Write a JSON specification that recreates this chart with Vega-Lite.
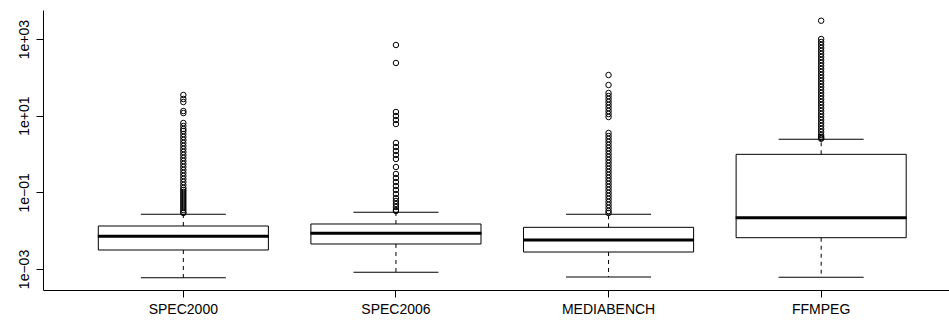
{
  "$schema": "https://vega.github.io/schema/vega-lite/v6.json",
  "width": 906,
  "height": 280,
  "autosize": "none",
  "padding": {"left": 43, "top": 10, "right": 0, "bottom": 31},
  "background": "white",
  "config": {
    "view": {"stroke": null},
    "font": "Liberation Sans",
    "axis": {"grid": false, "domainColor": "black", "tickColor": "black", "labelColor": "black", "tickSize": 7, "labelFont": "Liberation Sans", "labelFontSize": 14, "domainWidth": 1, "tickWidth": 1},
    "axisX": {"labelAngle": 0, "labelPadding": 5},
    "axisY": {"labelAngle": -90, "labelAlign": "center", "labelBaseline": "bottom", "labelPadding": 5}
  },
  "datasets": {
    "boxes": [
      {"group": "SPEC2000", "lower": 0.000594, "q1": 0.00313, "median": 0.00711, "q3": 0.01324, "upper": 0.0267},
      {"group": "SPEC2006", "lower": 0.000819, "q1": 0.00449, "median": 0.00851, "q3": 0.01493, "upper": 0.0301},
      {"group": "MEDIABENCH", "lower": 0.000618, "q1": 0.00277, "median": 0.0057, "q3": 0.01222, "upper": 0.0267},
      {"group": "FFMPEG", "lower": 0.000607, "q1": 0.00655, "median": 0.0218, "q3": 0.98, "upper": 2.42}
    ],
    "outliers": [
      {"group": "SPEC2000", "value": 34.6}, {"group": "SPEC2000", "value": 27.2}, {"group": "SPEC2000", "value": 22.7},
      {"group": "SPEC2000", "value": 13.2}, {"group": "SPEC2000", "value": 11.7}, {"group": "SPEC2000", "value": 6.44},
      {"group": "SPEC2000", "value": 5.38}, {"group": "SPEC2000", "value": 4.49}, {"group": "SPEC2000", "value": 3.98},
      {"group": "SPEC2000", "value": 3.32}, {"group": "SPEC2000", "value": 2.78}, {"group": "SPEC2000", "value": 2.32},
      {"group": "SPEC2000", "value": 1.94}, {"group": "SPEC2000", "value": 1.62}, {"group": "SPEC2000", "value": 1.35},
      {"group": "SPEC2000", "value": 1.13}, {"group": "SPEC2000", "value": 0.942}, {"group": "SPEC2000", "value": 0.786},
      {"group": "SPEC2000", "value": 0.657}, {"group": "SPEC2000", "value": 0.548}, {"group": "SPEC2000", "value": 0.458},
      {"group": "SPEC2000", "value": 0.382}, {"group": "SPEC2000", "value": 0.319}, {"group": "SPEC2000", "value": 0.267},
      {"group": "SPEC2000", "value": 0.223}, {"group": "SPEC2000", "value": 0.186}, {"group": "SPEC2000", "value": 0.155},
      {"group": "SPEC2000", "value": 0.13}, {"group": "SPEC2000", "value": 0.115}, {"group": "SPEC2000", "value": 0.102},
      {"group": "SPEC2000", "value": 0.0905}, {"group": "SPEC2000", "value": 0.0802}, {"group": "SPEC2000", "value": 0.0711},
      {"group": "SPEC2000", "value": 0.0631}, {"group": "SPEC2000", "value": 0.056}, {"group": "SPEC2000", "value": 0.0496},
      {"group": "SPEC2000", "value": 0.044}, {"group": "SPEC2000", "value": 0.039}, {"group": "SPEC2000", "value": 0.0346},
      {"group": "SPEC2000", "value": 0.0307}, {"group": "SPEC2000", "value": 0.0289},
      {"group": "SPEC2006", "value": 698}, {"group": "SPEC2006", "value": 237}, {"group": "SPEC2006", "value": 12.5},
      {"group": "SPEC2006", "value": 9.8}, {"group": "SPEC2006", "value": 7.71}, {"group": "SPEC2006", "value": 6.06},
      {"group": "SPEC2006", "value": 1.94}, {"group": "SPEC2006", "value": 1.52}, {"group": "SPEC2006", "value": 1.2},
      {"group": "SPEC2006", "value": 0.942}, {"group": "SPEC2006", "value": 0.741}, {"group": "SPEC2006", "value": 0.458},
      {"group": "SPEC2006", "value": 0.301}, {"group": "SPEC2006", "value": 0.2365}, {"group": "SPEC2006", "value": 0.186},
      {"group": "SPEC2006", "value": 0.146}, {"group": "SPEC2006", "value": 0.115}, {"group": "SPEC2006", "value": 0.0905},
      {"group": "SPEC2006", "value": 0.0711}, {"group": "SPEC2006", "value": 0.0594}, {"group": "SPEC2006", "value": 0.0496},
      {"group": "SPEC2006", "value": 0.0414}, {"group": "SPEC2006", "value": 0.0346}, {"group": "SPEC2006", "value": 0.0326},
      {"group": "MEDIABENCH", "value": 115}, {"group": "MEDIABENCH", "value": 63.1}, {"group": "MEDIABENCH", "value": 39.0},
      {"group": "MEDIABENCH", "value": 32.6}, {"group": "MEDIABENCH", "value": 27.2}, {"group": "MEDIABENCH", "value": 22.7},
      {"group": "MEDIABENCH", "value": 19.0}, {"group": "MEDIABENCH", "value": 15.85}, {"group": "MEDIABENCH", "value": 13.2},
      {"group": "MEDIABENCH", "value": 11.05}, {"group": "MEDIABENCH", "value": 9.23}, {"group": "MEDIABENCH", "value": 3.53},
      {"group": "MEDIABENCH", "value": 2.95}, {"group": "MEDIABENCH", "value": 2.46}, {"group": "MEDIABENCH", "value": 2.06},
      {"group": "MEDIABENCH", "value": 1.72}, {"group": "MEDIABENCH", "value": 1.43}, {"group": "MEDIABENCH", "value": 1.2},
      {"group": "MEDIABENCH", "value": 1.0}, {"group": "MEDIABENCH", "value": 0.835}, {"group": "MEDIABENCH", "value": 0.697},
      {"group": "MEDIABENCH", "value": 0.582}, {"group": "MEDIABENCH", "value": 0.486}, {"group": "MEDIABENCH", "value": 0.406},
      {"group": "MEDIABENCH", "value": 0.339}, {"group": "MEDIABENCH", "value": 0.283}, {"group": "MEDIABENCH", "value": 0.2365},
      {"group": "MEDIABENCH", "value": 0.1975}, {"group": "MEDIABENCH", "value": 0.165}, {"group": "MEDIABENCH", "value": 0.138},
      {"group": "MEDIABENCH", "value": 0.115}, {"group": "MEDIABENCH", "value": 0.096}, {"group": "MEDIABENCH", "value": 0.0802},
      {"group": "MEDIABENCH", "value": 0.067}, {"group": "MEDIABENCH", "value": 0.056}, {"group": "MEDIABENCH", "value": 0.0467},
      {"group": "MEDIABENCH", "value": 0.039}, {"group": "MEDIABENCH", "value": 0.0326}, {"group": "MEDIABENCH", "value": 0.0289},
      {"group": "FFMPEG", "value": 3000}, {"group": "FFMPEG", "value": 1000}, {"group": "FFMPEG", "value": 836},
      {"group": "FFMPEG", "value": 698}, {"group": "FFMPEG", "value": 583}, {"group": "FFMPEG", "value": 487},
      {"group": "FFMPEG", "value": 406}, {"group": "FFMPEG", "value": 339}, {"group": "FFMPEG", "value": 283},
      {"group": "FFMPEG", "value": 237}, {"group": "FFMPEG", "value": 198}, {"group": "FFMPEG", "value": 165},
      {"group": "FFMPEG", "value": 138}, {"group": "FFMPEG", "value": 115}, {"group": "FFMPEG", "value": 96.1},
      {"group": "FFMPEG", "value": 80.3}, {"group": "FFMPEG", "value": 67.0}, {"group": "FFMPEG", "value": 56.0},
      {"group": "FFMPEG", "value": 46.7}, {"group": "FFMPEG", "value": 39.0}, {"group": "FFMPEG", "value": 32.6},
      {"group": "FFMPEG", "value": 27.2}, {"group": "FFMPEG", "value": 22.7}, {"group": "FFMPEG", "value": 19.0},
      {"group": "FFMPEG", "value": 15.85}, {"group": "FFMPEG", "value": 13.2}, {"group": "FFMPEG", "value": 11.05},
      {"group": "FFMPEG", "value": 9.23}, {"group": "FFMPEG", "value": 7.71}, {"group": "FFMPEG", "value": 6.44},
      {"group": "FFMPEG", "value": 5.38}, {"group": "FFMPEG", "value": 4.49}, {"group": "FFMPEG", "value": 3.75},
      {"group": "FFMPEG", "value": 3.13}, {"group": "FFMPEG", "value": 2.81}, {"group": "FFMPEG", "value": 2.61},
      {"group": "FFMPEG", "value": 2.5}
    ]
  },
  "layer": [
    {
      "data": {"name": "boxes"},
      "mark": {"type": "rule", "color": "black", "strokeWidth": 1, "strokeDash": [4, 4]},
      "encoding": {
        "x": {
          "field": "group", "type": "nominal", "title": null,
          "sort": ["SPEC2000", "SPEC2006", "MEDIABENCH", "FFMPEG"],
          "scale": {"type": "band", "domain": ["SPEC2000", "SPEC2006", "MEDIABENCH", "FFMPEG"], "paddingInner": 0.2, "paddingOuter": 0.2307, "align": 0.5637}
        },
        "y": {
          "field": "q3", "type": "quantitative", "title": null,
          "scale": {"type": "log", "domain": [0.000283, 5715], "nice": false, "zero": false},
          "axis": {"values": [0.001, 0.1, 10, 1000], "labelExpr": "datum.value < 0.01 ? '1e−03' : datum.value < 1 ? '1e−01' : datum.value < 100 ? '1e+01' : '1e+03'"}
        },
        "y2": {"field": "upper"}
      }
    },
    {
      "data": {"name": "boxes"},
      "mark": {"type": "rule", "color": "black", "strokeWidth": 1, "strokeDash": [4, 4]},
      "encoding": {
        "x": {"field": "group", "type": "nominal", "title": null, "sort": ["SPEC2000", "SPEC2006", "MEDIABENCH", "FFMPEG"]},
        "y": {"field": "q1", "type": "quantitative", "title": null,
          "axis": {"values": [0.001, 0.1, 10, 1000], "labelExpr": "datum.value < 0.01 ? '1e−03' : datum.value < 1 ? '1e−01' : datum.value < 100 ? '1e+01' : '1e+03'"}},
        "y2": {"field": "lower"}
      }
    },
    {
      "data": {"name": "boxes"},
      "mark": {"type": "tick", "orient": "horizontal", "size": 85, "thickness": 1, "color": "black", "opacity": 1},
      "encoding": {
        "x": {"field": "group", "type": "nominal", "title": null, "sort": ["SPEC2000", "SPEC2006", "MEDIABENCH", "FFMPEG"]},
        "y": {"field": "upper", "type": "quantitative", "title": null,
          "axis": {"values": [0.001, 0.1, 10, 1000], "labelExpr": "datum.value < 0.01 ? '1e−03' : datum.value < 1 ? '1e−01' : datum.value < 100 ? '1e+01' : '1e+03'"}}
      }
    },
    {
      "data": {"name": "boxes"},
      "mark": {"type": "tick", "orient": "horizontal", "size": 85, "thickness": 1, "color": "black", "opacity": 1},
      "encoding": {
        "x": {"field": "group", "type": "nominal", "title": null, "sort": ["SPEC2000", "SPEC2006", "MEDIABENCH", "FFMPEG"]},
        "y": {"field": "lower", "type": "quantitative", "title": null,
          "axis": {"values": [0.001, 0.1, 10, 1000], "labelExpr": "datum.value < 0.01 ? '1e−03' : datum.value < 1 ? '1e−01' : datum.value < 100 ? '1e+01' : '1e+03'"}}
      }
    },
    {
      "data": {"name": "boxes"},
      "mark": {"type": "bar", "fill": "white", "stroke": "black", "strokeWidth": 1, "opacity": 1},
      "encoding": {
        "x": {"field": "group", "type": "nominal", "title": null, "sort": ["SPEC2000", "SPEC2006", "MEDIABENCH", "FFMPEG"]},
        "y": {"field": "q1", "type": "quantitative", "title": null,
          "axis": {"values": [0.001, 0.1, 10, 1000], "labelExpr": "datum.value < 0.01 ? '1e−03' : datum.value < 1 ? '1e−01' : datum.value < 100 ? '1e+01' : '1e+03'"}},
        "y2": {"field": "q3"}
      }
    },
    {
      "data": {"name": "boxes"},
      "mark": {"type": "tick", "orient": "horizontal", "size": 171, "thickness": 3, "color": "black", "opacity": 1},
      "encoding": {
        "x": {"field": "group", "type": "nominal", "title": null, "sort": ["SPEC2000", "SPEC2006", "MEDIABENCH", "FFMPEG"]},
        "y": {"field": "median", "type": "quantitative", "title": null,
          "axis": {"values": [0.001, 0.1, 10, 1000], "labelExpr": "datum.value < 0.01 ? '1e−03' : datum.value < 1 ? '1e−01' : datum.value < 100 ? '1e+01' : '1e+03'"}}
      }
    },
    {
      "data": {"name": "outliers"},
      "mark": {"type": "point", "shape": "circle", "filled": false, "size": 30, "color": "black", "strokeWidth": 1, "opacity": 1},
      "encoding": {
        "x": {"field": "group", "type": "nominal", "title": null, "sort": ["SPEC2000", "SPEC2006", "MEDIABENCH", "FFMPEG"]},
        "y": {"field": "value", "type": "quantitative", "title": null,
          "axis": {"values": [0.001, 0.1, 10, 1000], "labelExpr": "datum.value < 0.01 ? '1e−03' : datum.value < 1 ? '1e−01' : datum.value < 100 ? '1e+01' : '1e+03'"}}
      }
    },
    {
      "mark": {"type": "rule", "color": "black", "strokeWidth": 1},
      "encoding": {
        "y": {"datum": 5715, "type": "quantitative", "title": null,
          "axis": {"values": [0.001, 0.1, 10, 1000], "labelExpr": "datum.value < 0.01 ? '1e−03' : datum.value < 1 ? '1e−01' : datum.value < 100 ? '1e+01' : '1e+03'"}}
      }
    }
  ]
}
